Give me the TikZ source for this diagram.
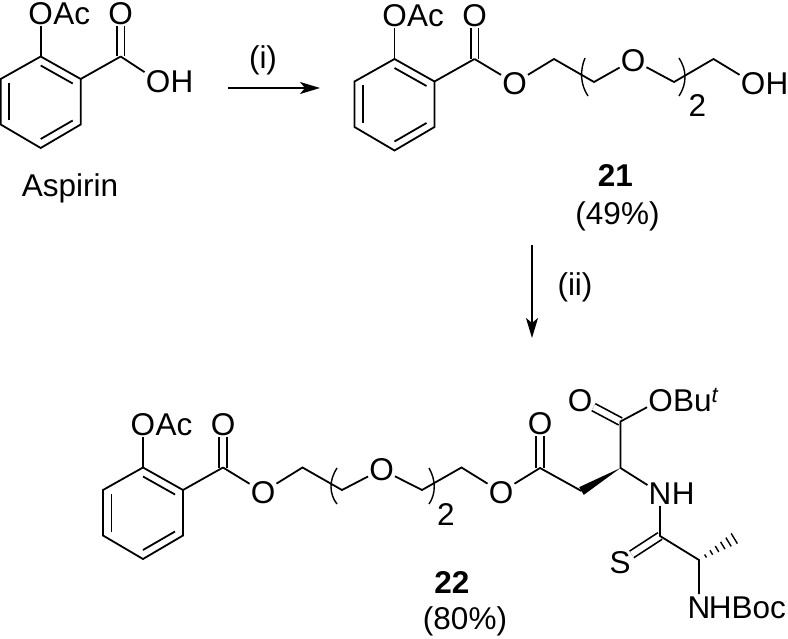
\documentclass[tikz,border=0pt]{standalone}
\usepackage{fontspec}
\setmainfont{Liberation Sans}
\usetikzlibrary{calc,positioning,arrows.meta}
\tikzset{
    bond/.style={line width=1.8pt},
    dblbond/.style={line width=1.7pt, double, double distance=6pt},
    bracket/.style={line width=1.4pt},
    hashbond/.style={line width=1.4pt},
    atom/.style={
        font=\fontsize{31.5}{32}\selectfont,
        inner xsep=1pt, inner ysep=1.5pt,
        text height=22.5pt, text depth=0pt
    },
    tail/.style={atom, inner xsep=0pt, right=-1pt of #1},
    label/.style={font=\fontsize{31.5}{32}\selectfont, inner sep=0pt},
    step arrow/.style={line width=1.8pt, -{Stealth[length=20pt,width=12pt,inset=5pt]}}
}
\begin{document}
\begin{tikzpicture}[x=1pt, y=-1pt]
    \useasboundingbox (0,0) rectangle (788,639);

    % aryl part, the same three times
    \foreach \ox/\oy/\pre in {0.7/0/a, 354.5/2.5/b, 103/411/c} {
        \begin{scope}[shift={(\ox,\oy)}, name prefix=\pre-]
            \coordinate (r1) at (40,56.5);
            \coordinate (r2) at (80,79);
            \coordinate (r3) at (80,124.5);
            \coordinate (r4) at (40,148);
            \coordinate (r5) at (0,124.5);
            \coordinate (r6) at (0,79);
            \coordinate (cc) at (120,56.5);
            \node[atom] (oac) at (40,13) {O};
            \node[tail=oac] (ac) {Ac};
            \node[atom] (oket) at (120,13) {O};
            \draw[dblbond] (cc) -- (oket);
            \draw[bond] (r1) -- (r2) -- (r3) -- (r4) -- (r5) -- (r6) -- cycle;
            \draw[bond] (r1) -- (oac);
            \draw[bond] (r2) -- (cc);
            \draw[bond] (40,65.5) -- (72,83.5);
            \draw[bond] (72,120.5) -- (40,139);
            \draw[bond] (8.5,120.5) -- (8.5,83);
        \end{scope}
    }

    % aspirin
    \node[atom] (oa) at (158,81) {O};
    \node[tail=oa] (ha) {H};
    \draw[bond] (a-cc) -- (oa);
    \node[label] (aspirin) at (70,188) {Aspirin};

    % first step
    \coordinate (s1a) at (228,88);
    \coordinate (s1b) at (320,88);
    \draw[step arrow] (s1a) -- (s1b);
    \node[label] (s1l) at (263,60) {(i)};

    % compound 21
    \node[atom] (be) at (514.5,83) {O};
    \coordinate (b1) at (554,59);
    \coordinate (b2) at (594,82);
    \node[atom] (bo) at (633,60) {O};
    \coordinate (b3) at (674,82);
    \coordinate (b4) at (713.5,59);
    \node[atom] (boh) at (753,83) {O};
    \node[tail=boh] (bh) {H};
    \draw[bond] (b-cc) -- (be);
    \draw[bond] (be) -- (b1) -- (b2) -- (bo) -- (b3) -- (b4) -- (boh);
    \draw[bracket] (585,58) .. controls (580,70) and (580,84) .. (588,96);
    \draw[bracket] (679,58) .. controls (687,70) and (687,84) .. (679,96);
    \node[label] (bn) at (697.5,106) {2};
    \node[label] (b21) at (615.5,176) {\textbf{21}};
    \node[label] (byield) at (617.5,216) {(49\%)};

    % second step
    \coordinate (s2a) at (532,245);
    \coordinate (s2b) at (532,338);
    \draw[step arrow] (s2a) -- (s2b);
    \node[label] (s2l) at (575,287) {(ii)};

    % compound 22
    \node[atom] (ce) at (263,492) {O};
    \coordinate (c1) at (302.5,467.5);
    \coordinate (c2) at (342,490);
    \node[atom] (co) at (381.5,469.5) {O};
    \coordinate (c3) at (422,490);
    \coordinate (c4) at (461.5,467.5);
    \node[atom] (ce2) at (501,492) {O};
    \coordinate (c5) at (540,468);
    \node[atom] (co2) at (540,423.5) {O};
    \coordinate (c6) at (581.5,491);
    \coordinate (c7) at (620.5,468);
    \coordinate (c8) at (620.5,421.5);
    \node[atom] (co3) at (580,400) {O};
    \node[atom] (cobu) at (660.5,400) {O};
    \node[tail=cobu] (bu) {Bu\textsuperscript{\itshape t}};
    \node[atom] (cn) at (660,493) {N};
    \node[tail=cn] (cnh) {H};
    \coordinate (c9) at (660,536);
    \node[atom] (cs) at (620,562) {S};
    \coordinate (c10) at (699,560);
    \coordinate (c11) at (740,535);
    \node[atom] (cn2) at (699,607) {N};
    \node[tail=cn2, xshift=-2pt] (boc) {HBoc};
    \draw[dblbond] (c5) -- (co2);
    \draw[dblbond] (c8) -- (co3);
    \draw[dblbond] (c9) -- (cs);
    \draw[bond] (c-cc) -- (ce);
    \draw[bond] (ce) -- (c1) -- (c2) -- (co) -- (c3) -- (c4) -- (ce2) -- (c5) -- (c6);
    \draw[bond] (c7) -- (c8) -- (cobu);
    \draw[bond] (c7) -- (cn) -- (c9) -- (c10) -- (cn2);
    \fill (c7) -- ($(c6)!4.5pt!90:(c7)$) -- ($(c6)!4.5pt!-90:(c7)$) -- cycle;
    \foreach \f in {0.16,0.3,0.44,0.58,0.72,0.86,1} {
        \pgfmathsetmacro\w{0.8+6*\f}
        \draw[hashbond] ($(c10)!\f!(c11)!\w pt!90:(c11)$) -- ($(c10)!\f!(c11)!\w pt!-90:(c11)$);
    }
    \draw[bracket] (337,468) .. controls (329,480) and (329,494) .. (337,504);
    \draw[bracket] (429,468) .. controls (436,480) and (436,494) .. (429,504);
    \node[label] (cn3) at (446,515) {2};
    \node[label] (c22) at (452,583) {\textbf{22}};
    \node[label] (cyield) at (465,621) {(80\%)};
\end{tikzpicture}
\end{document}
